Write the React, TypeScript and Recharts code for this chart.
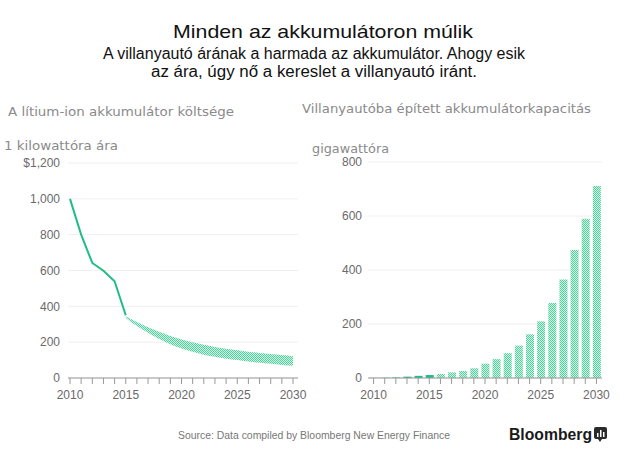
import React from 'react';
import { ComposedChart, BarChart, Bar, Line, Area, XAxis, YAxis, CartesianGrid, Cell } from 'recharts';

const years = [2010, 2011, 2012, 2013, 2014, 2015, 2016, 2017, 2018, 2019, 2020, 2021, 2022, 2023, 2024, 2025, 2026, 2027, 2028, 2029, 2030];
// Lithium-ion battery price, $ per kWh (actual 2010-2015)
const priceActual = [1000, 800, 642, 599, 540, 350];
// Forecast band 2015-2030
const priceHigh = [345, 312, 283, 258, 235, 215, 199, 185, 173, 163, 155, 147, 140, 134, 128, 122];
const priceLow = [335, 290, 252, 218, 189, 165, 146, 130, 118, 108, 100, 92, 85, 79, 73, 68];
// EV battery capacity, GWh
const capacity = [0.5, 1, 2, 5, 8, 11, 15, 21, 26, 36, 53, 70, 92, 120, 162, 210, 278, 365, 474, 590, 711];
const lastActualYear = 2015;

const priceTicks = [0, 200, 400, 600, 800, 1000, 1200];
const capTicks = [0, 200, 400, 600, 800];
const labelYears = [2010, 2015, 2020, 2025, 2030];

const title = 'Minden az akkumulátoron múlik';
const subtitle1 = 'A villanyautó árának a harmada az akkumulátor. Ahogy esik';
const subtitle2 = 'az ára, úgy nő a kereslet a villanyautó iránt.';
const leftTitle = 'A lítium-ion akkumulátor költsége';
const leftUnit = '1 kilowattóra ára';
const rightTitle = 'Villanyautóba épített akkumulátorkapacitás';
const rightUnit = 'gigawattóra';
const source = 'Source: Data compiled by Bloomberg New Energy Finance';
const brand = 'Bloomberg';

const priceData = years.map((y, i) => {
  const fi = i - (lastActualYear - 2010);
  return {
    year: y,
    actual: i < priceActual.length ? priceActual[i] : null,
    band: fi >= 0 ? [priceLow[fi], priceHigh[fi]] : null,
  };
});
const capData = years.map((y, i) => ({ year: y, value: capacity[i] }));

const GREEN = '#20bd84';
const tickStyle = { fill: '#6a6a6a', fontSize: 12, fontFamily: 'Liberation Sans, Arial, sans-serif' };
const yearFmt = (v: number) => (labelYears.includes(Number(v)) ? String(v) : '');

const Hatch = ({ id }: { id: string }) => (
  <defs>
    <pattern id={id} x="0" y="0" width="2" height="2" patternUnits="userSpaceOnUse">
      <rect x="0" y="0" width="2" height="2" fill="#d3f4e5" />
      <rect x="0" y="0" width="1" height="1" fill="#52cf9e" />
      <rect x="1" y="1" width="1" height="1" fill="#52cf9e" />
    </pattern>
  </defs>
);

export default function App() {
  return (
    <div style={{ position: 'absolute', left: 0, top: 0, width: 628, height: 460, background: '#fff', overflow: 'hidden' }}>
      <div style={{ position: 'absolute', left: 0, top: 0 }}>
        <ComposedChart width={310} height={420} data={priceData} margin={{ top: 163, right: 12, bottom: 12, left: 8 }}>
          <Hatch id="hatchL" />
          <CartesianGrid vertical={false} stroke="#efefef" />
          <XAxis
            dataKey="year"
            type="number"
            domain={[2010, 2030]}
            ticks={years}
            interval={0}
            tickFormatter={yearFmt}
            padding={{ left: 2, right: 5 }}
            height={30}
            tickSize={6}
            tickMargin={6}
            stroke="#999"
            tick={tickStyle}
          />
          <YAxis
            type="number"
            domain={[0, 1200]}
            ticks={priceTicks}
            interval={0}
            width={60}
            axisLine={false}
            tickLine={false}
            tickSize={0}
            tickMargin={8}
            tick={tickStyle}
            tickFormatter={(v: number) => (v === 1200 ? '$1,200' : Number(v).toLocaleString('en-US'))}
          />
          <Area dataKey="band" type="monotone" stroke="none" fill="url(#hatchL)" fillOpacity={1} isAnimationActive={false} connectNulls={false} />
          <Line dataKey="actual" type="linear" stroke={GREEN} strokeWidth={2} dot={false} isAnimationActive={false} connectNulls={false} />
        </ComposedChart>
      </div>
      <div style={{ position: 'absolute', left: 310, top: 0 }}>
        <BarChart width={318} height={420} data={capData} margin={{ top: 162, right: 26, bottom: 12, left: 8 }} barSize={8}>
          <Hatch id="hatchR" />
          <CartesianGrid vertical={false} stroke="#efefef" />
          <XAxis
            dataKey="year"
            interval={0}
            tickFormatter={yearFmt}
            height={30}
            tickSize={6}
            tickMargin={6}
            stroke="#999"
            tick={tickStyle}
          />
          <YAxis
            type="number"
            domain={[0, 800]}
            ticks={capTicks}
            interval={0}
            width={50}
            axisLine={false}
            tickLine={false}
            tickSize={0}
            tickMargin={6}
            tick={tickStyle}
          />
          <Bar dataKey="value" isAnimationActive={false}>
            {capData.map((d) => (
              <Cell key={d.year} fill={d.year <= lastActualYear ? GREEN : 'url(#hatchR)'} />
            ))}
          </Bar>
        </BarChart>
      </div>
      <svg width={628} height={460} style={{ position: 'absolute', left: 0, top: 0, pointerEvents: 'none' }}>
        <g fontFamily="Liberation Sans, Arial, sans-serif" fill="#111">
          <text x={173} y={38} fontSize={19} textLength={300} lengthAdjust="spacingAndGlyphs">{title}</text>
          <text x={103} y={59} fontSize={16} textLength={422} lengthAdjust="spacingAndGlyphs">{subtitle1}</text>
          <text x={151} y={77} fontSize={16} textLength={326} lengthAdjust="spacingAndGlyphs">{subtitle2}</text>
        </g>
        <g fontFamily="DejaVu Sans, sans-serif" fill="#8a8a8a" fontSize={13}>
          <text x={8} y={116} textLength={226} lengthAdjust="spacingAndGlyphs">{leftTitle}</text>
          <text x={4} y={150} textLength={114} lengthAdjust="spacingAndGlyphs">{leftUnit}</text>
          <text x={302} y={113} textLength={289} lengthAdjust="spacingAndGlyphs">{rightTitle}</text>
          <text x={312} y={153} textLength={77} lengthAdjust="spacingAndGlyphs">{rightUnit}</text>
        </g>
        <text x={178} y={439} fontSize={11} fill="#777" fontFamily="Liberation Sans, Arial, sans-serif" textLength={272} lengthAdjust="spacingAndGlyphs">{source}</text>
        <text x={509} y={440} fontSize={17} fontWeight="bold" fill="#1a1a1a" fontFamily="Liberation Sans, Arial, sans-serif" textLength={83} lengthAdjust="spacingAndGlyphs">{brand}</text>
        <g>
          <rect x={594} y={427} width={13} height={12} rx={2} fill="#2a2a2a" />
          <path d="M598 439 L600 442 L602 439 Z" fill="#2a2a2a" />
          <rect x={597} y={433} width={1.5} height={4} fill="#fff" />
          <rect x={600} y={430} width={1.5} height={7} fill="#fff" />
          <rect x={603} y={432} width={1.5} height={5} fill="#fff" />
        </g>
      </svg>
    </div>
  );
}
